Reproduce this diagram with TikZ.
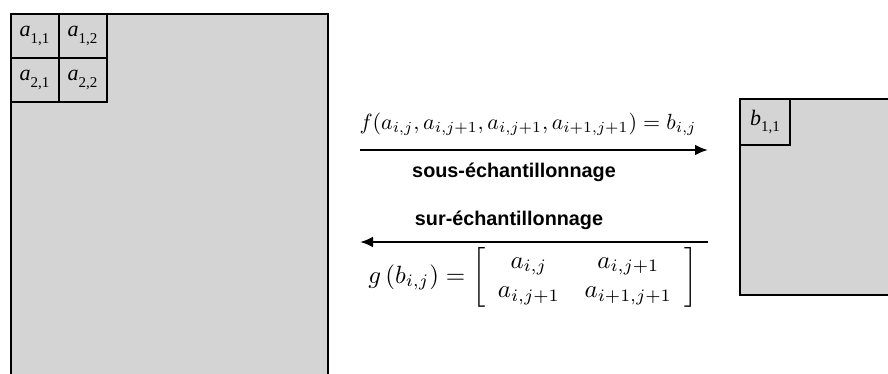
\documentclass[tikz,border=0pt]{standalone}
\usepackage{fontspec}
\usepackage{amsmath}
\usepackage{graphicx}
\usetikzlibrary{arrows.meta}
\newfontfamily\tmsfont{Liberation Serif}
\newfontfamily\hlvfont{Liberation Sans}
\definecolor{boxgray}{HTML}{D4D4D4}
\newcommand{\cellsym}[2]{{\tmsfont\itshape #1}{\tmsfont\raisebox{-0.3em}{\fontsize{15}{15}\selectfont #2}}}
\begin{document}
\begin{tikzpicture}[x=1pt,y=-1pt,
  bigbox/.style={draw, line width=2.4pt, fill=boxgray, inner sep=0pt, anchor=north west},
  cellbox/.style={draw, line width=2.2pt, fill=boxgray, inner sep=0pt, anchor=north west,
    minimum width=48pt, minimum height=44pt, font=\fontsize{22}{24}\selectfont},
  arr/.style={line width=2.4pt, -{Latex[length=13pt,width=11pt]}},
  lbl/.style={font=\hlvfont\bfseries\fontsize{19.8}{22}\selectfont, inner sep=0pt},
  frm/.style={inner sep=0pt}]
\clip (0,0) rectangle (888,374);
\useasboundingbox (0,0) rectangle (888,374);
\fill[white] (0,0) rectangle (888,374);
% left big image
\node[bigbox, minimum width=317pt, minimum height=400pt] (A) at (9.5,13) {};
\node[cellbox] (a11) at (9.5,13) {\cellsym{a}{1,1}};
\node[cellbox] (a12) at (57.5,13) {\cellsym{a}{1,2}};
\node[cellbox] (a21) at (9.5,57) {\cellsym{a}{2,1}};
\node[cellbox] (a22) at (57.5,57) {\cellsym{a}{2,2}};
% right small image
\node[bigbox, minimum width=170pt, minimum height=196pt] (B) at (739,98) {};
\node[cellbox, minimum width=50pt, minimum height=46pt] (b11) at (739,98) {\cellsym{b}{1,1}};
% arrows
\coordinate (t1) at (360,150);
\coordinate (t2) at (708,150);
\coordinate (u1) at (708,242);
\coordinate (u2) at (360,242);
\draw[arr] (t1) -- (t2);
\draw[arr] (u1) -- (u2);
\node[frm] (f) at (528,124) {\resizebox{337pt}{!}{$f(a_{i,j},a_{i,j+1},a_{i,j+1},a_{i+1,j+1})=b_{i,j}$}};
\node[lbl] (sous) at (514,172) {sous-échantillonnage};
\node[lbl] (sur) at (509,220) {sur-échantillonnage};
\node[frm] (g) at (533,277) {\resizebox{329pt}{!}{$g\left(b_{i,j}\right)=\left[\begin{array}{cc} a_{i,j} & a_{i,j+1}\\ a_{i,j+1} & a_{i+1,j+1}\end{array}\right]$}};
\end{tikzpicture}
\end{document}
